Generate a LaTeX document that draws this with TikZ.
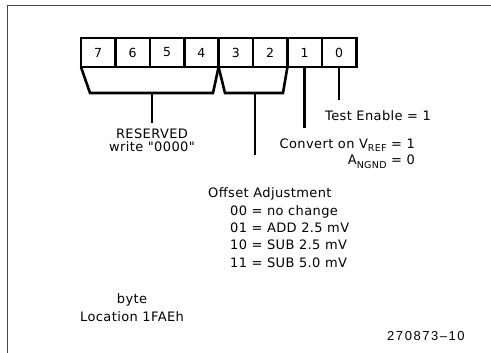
\documentclass[tikz,border=0pt]{standalone}
\usepackage{fontspec}
\newfontfamily\diagfont{DejaVu Sans}[LetterSpace=3]
\newfontfamily\numfont{Liberation Sans}[LetterSpace=12]
\newcommand{\lowsub}[1]{\raisebox{-3pt}{\fontsize{9.5}{10}\selectfont #1}}
\definecolor{framegray}{RGB}{70,70,70}

\begin{document}
\begin{tikzpicture}[x=1pt,y=-1pt,
    bitbox/.style={draw,line width=2.6pt,minimum width=34.4pt,minimum height=29pt,
      inner sep=0pt,outer sep=0pt,font=\diagfont\fontsize{12.5}{14}\selectfont},
    txt/.style={inner sep=0pt,font=\diagfont\fontsize{13}{15}\selectfont},
    reg/.style={line width=2.6pt} ]
    \useasboundingbox (0,0) rectangle (491,353);
    \draw [framegray,line width=1.8pt] (491,5.5) -- (7.5,5.5) -- (7.5,353);
    \node at (98.2,52.5) [bitbox] (b7) {7};
    \node at (132.6,52.5) [bitbox] (b6) {6};
    \node at (167,52.5) [bitbox] (b5) {5};
    \node at (201.4,52.5) [bitbox] (b4) {4};
    \node at (235.8,52.5) [bitbox] (b3) {3};
    \node at (270.2,52.5) [bitbox] (b2) {2};
    \node at (304.6,52.5) [bitbox] (b1) {1};
    \node at (339,52.5) [bitbox] (b0) {0};
    \coordinate (r1) at (90,93);
    \coordinate (r2) at (213,93);
    \coordinate (o1) at (225,93);
    \coordinate (o2) at (283,93);
    \draw [reg] (b7.south west) -- (r1) -- (r2) -- (b4.south east);
    \draw [reg] (b3.south west) -- (o1) -- (o2) -- (b2.south east);
    \coordinate (rs) at (152,93);
    \coordinate (re) at (152,123);
    \coordinate (os) at (255,93);
    \coordinate (oe) at (255,155);
    \coordinate (ce) at (304.6,128);
    \coordinate (te) at (339,100);
    \draw [reg] (rs) -- (re);
    \draw [reg] (os) -- (oe);
    \draw [reg] (b1.south) -- (ce);
    \draw [reg] (b0.south) -- (te);
    \node at (325,121) [txt,anchor=base west] (test) {Test Enable = 1};
    \node at (152,139) [txt,anchor=base] (res) {RESERVED};
    \node at (152,152) [txt,anchor=base] (wr) {write "0000"};
    \node at (415,149) [txt,anchor=base east] (conv) {Convert on V\lowsub{REF} = 1};
    \node at (415,165) [txt,anchor=base east] (agnd) {A\lowsub{NGND} = 0};
    \node at (208,198) [txt,anchor=base west] (off) {Offset Adjustment};
    \node at (230,215.3) [txt,anchor=base west] (o00) {00 = no change};
    \node at (230,232.5) [txt,anchor=base west] (o01) {01 = ADD 2.5 mV};
    \node at (230,249.7) [txt,anchor=base west] (o10) {10 = SUB 2.5 mV};
    \node at (230,267) [txt,anchor=base west] (o11) {11 = SUB 5.0 mV};
    \node at (132,303) [txt,anchor=base] (byte) {byte};
    \node at (80,321) [txt,anchor=base west] (loc) {Location 1FAEh};
    \node at (387,340) [inner sep=0pt,anchor=base west,font=\numfont\fontsize{13}{15}\selectfont] (fig) {270873–10};
\end{tikzpicture}
\end{document}
